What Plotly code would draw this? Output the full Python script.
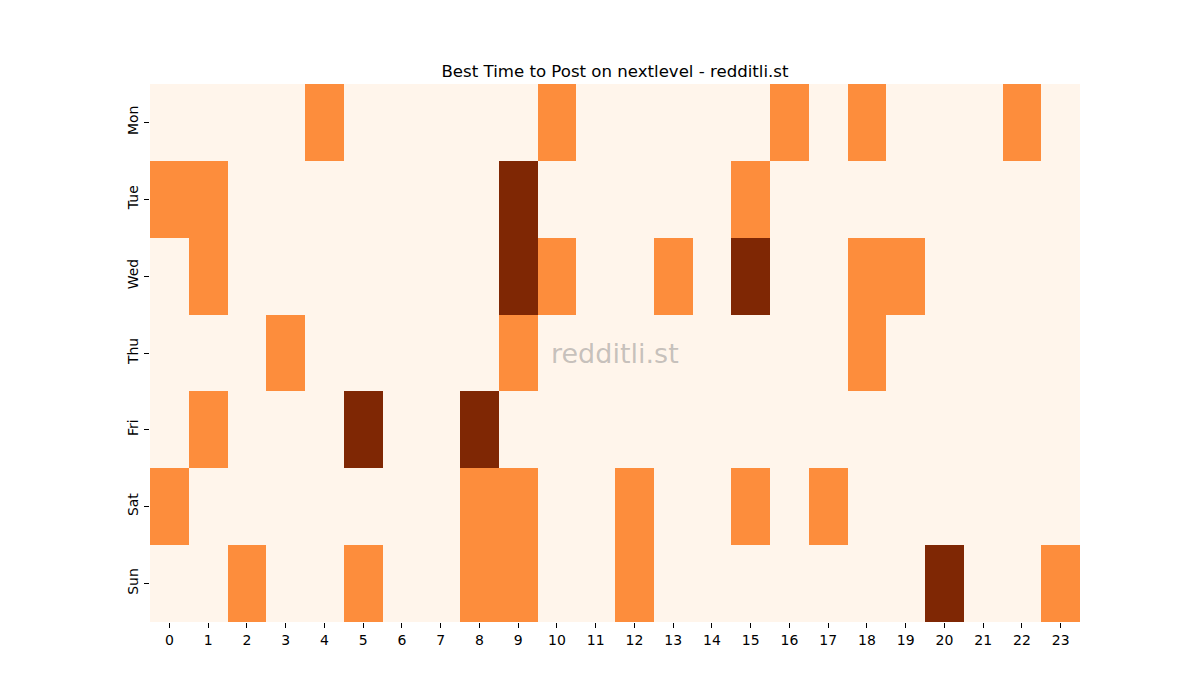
import plotly.graph_objects as go

# dagar och timmar
days = ["Mon", "Tue", "Wed", "Thu", "Fri", "Sat", "Sun"]
hours = [str(h) for h in range(24)]

# 0 = inget, 1 = bra, 2 = bäst
mon = [0, 0, 0, 0, 1, 0, 0, 0, 0, 0, 1, 0, 0, 0, 0, 0, 1, 0, 1, 0, 0, 0, 1, 0]
tue = [1, 1, 0, 0, 0, 0, 0, 0, 0, 2, 0, 0, 0, 0, 0, 1, 0, 0, 0, 0, 0, 0, 0, 0]
wed = [0, 1, 0, 0, 0, 0, 0, 0, 0, 2, 1, 0, 0, 1, 0, 2, 0, 0, 1, 1, 0, 0, 0, 0]
thu = [0, 0, 0, 1, 0, 0, 0, 0, 0, 1, 0, 0, 0, 0, 0, 0, 0, 0, 1, 0, 0, 0, 0, 0]
fri = [0, 1, 0, 0, 0, 2, 0, 0, 2, 0, 0, 0, 0, 0, 0, 0, 0, 0, 0, 0, 0, 0, 0, 0]
sat = [1, 0, 0, 0, 0, 0, 0, 0, 1, 1, 0, 0, 1, 0, 0, 1, 0, 1, 0, 0, 0, 0, 0, 0]
sun = [0, 0, 1, 0, 0, 1, 0, 0, 1, 1, 0, 0, 1, 0, 0, 0, 0, 0, 0, 0, 2, 0, 0, 1]

z = [mon, tue, wed, thu, fri, sat, sun]

colorscale = [
    [0.0, "#fff5eb"], [0.333, "#fff5eb"],
    [0.333, "#fd8d3c"], [0.667, "#fd8d3c"],
    [0.667, "#7f2704"], [1.0, "#7f2704"],
]

fig = go.Figure(go.Heatmap(
    z=z, x=hours, y=days,
    colorscale=colorscale, zmin=-0.5, zmax=2.5,
    showscale=False, hoverinfo="skip",
))

fig.add_annotation(
    x=0.5, y=0.5, xref="paper", yref="paper",
    text="redditli.st", showarrow=False,
    font=dict(family="DejaVu Sans", size=27, color="rgba(128,128,128,0.45)"),
)

# sidan har 8px marginal, så marginalerna kompenserar för det
fig.update_layout(
    width=1200, height=700,
    paper_bgcolor="white", plot_bgcolor="white",
    margin=dict(l=142, r=128, t=76, b=86),
    font=dict(family="DejaVu Sans", size=14, color="black"),
    title=dict(text="Best Time to Post on nextlevel - redditli.st",
               x=0.5, xanchor="center", xref="paper",
               y=0.901, yanchor="bottom",
               font=dict(size=16.6, color="black")),
    xaxis=dict(ticks="outside", ticklen=5, tickcolor="black", showline=False,
               showgrid=False, zeroline=False, tickangle=0),
    yaxis=dict(ticks="outside", ticklen=5, tickcolor="black", showline=False,
               showgrid=False, zeroline=False, autorange="reversed", tickangle=-90),
)

fig.write_html("out.html")
